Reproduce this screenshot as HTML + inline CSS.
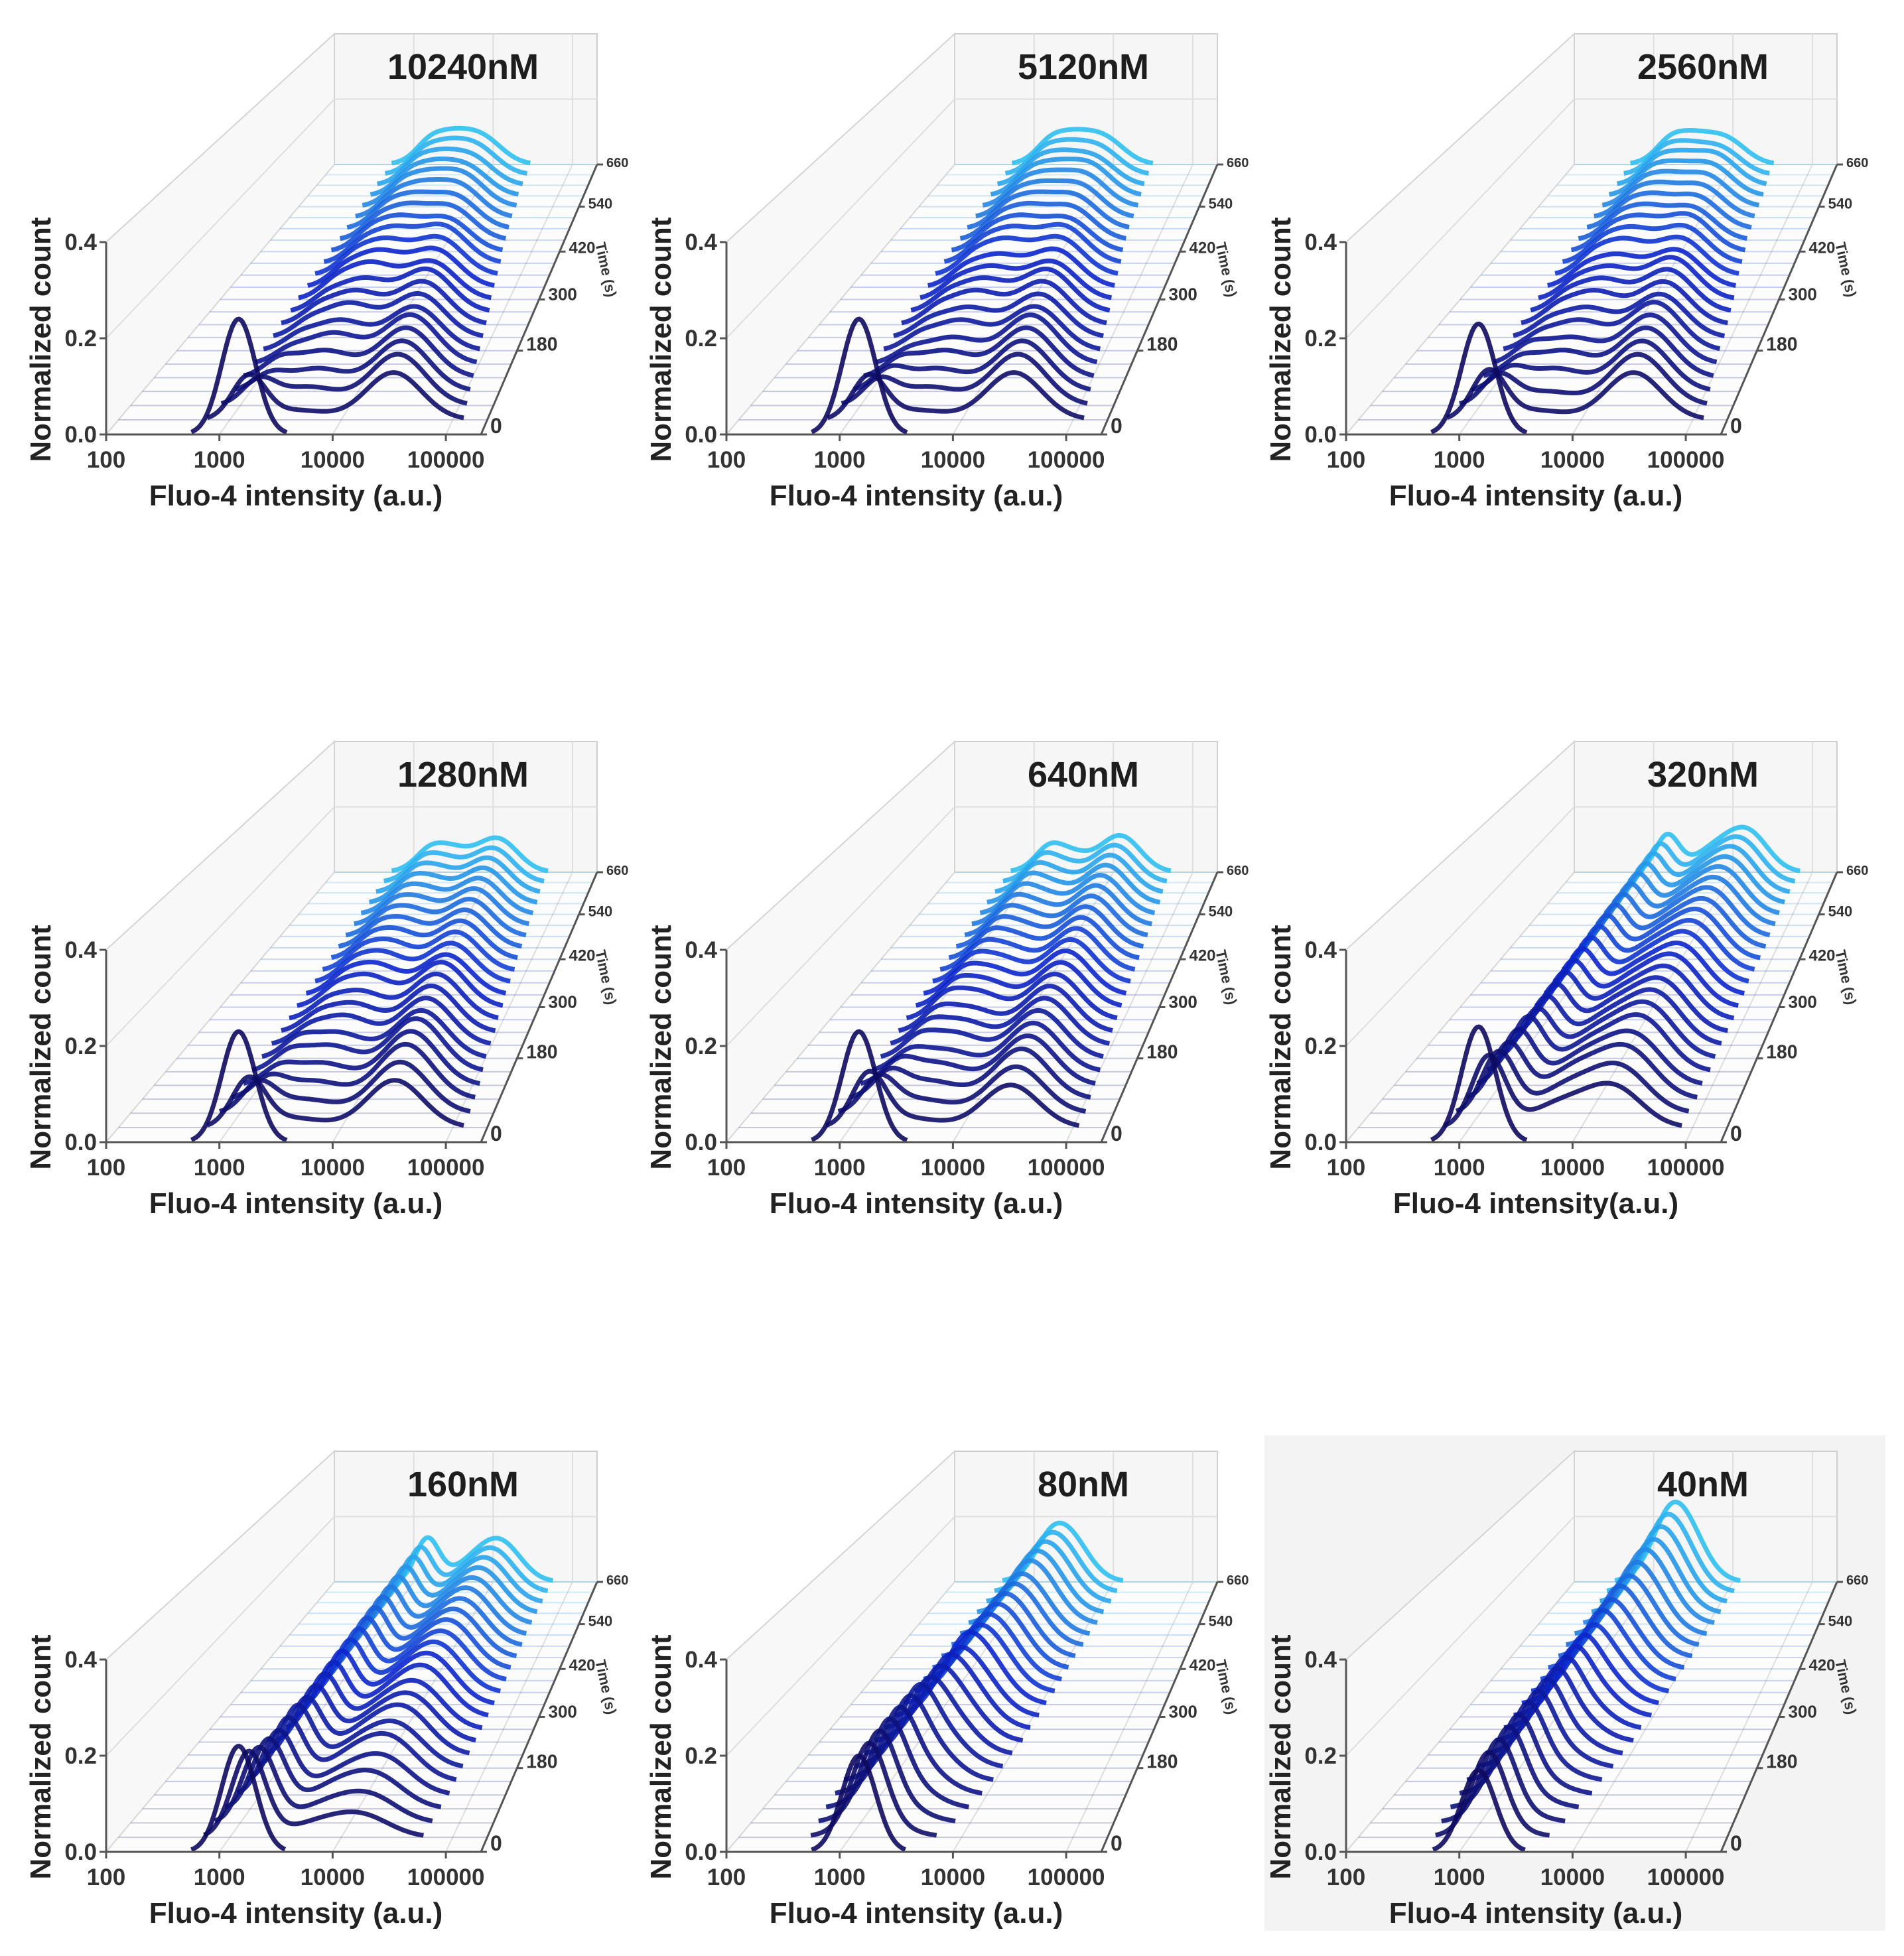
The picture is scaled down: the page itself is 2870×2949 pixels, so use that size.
<!DOCTYPE html>
<html><head><meta charset="utf-8"><title>Fluo-4 intensity ridge plots</title>
<style>
html,body{margin:0;padding:0;background:#fff;}
svg{display:block;font-family:"Liberation Sans",Arial,sans-serif;}
</style></head>
<body>
<svg id="fig" width="2870" height="2949" viewBox="0 0 2870 2949" xmlns="http://www.w3.org/2000/svg">
<rect x="1906" y="2164" width="936" height="747" fill="#f3f3f3"/>
</svg>
<script>
const times = [0,30,60,90,120,150,180,210,240,270,300,330,360,390,420,450,480,510,540,570,600,630,660];
const panelTitles = ["10240nM","5120nM","2560nM","1280nM","640nM","320nM","160nM","80nM","40nM"];
const xTickLabels = ["100","1000","10000","100000"];
const yTickLabels = ["0.0","0.2","0.4"];
const timeTickLabels = [0,180,300,420,540,660];
const xLabels = ["Fluo-4 intensity (a.u.)","Fluo-4 intensity (a.u.)","Fluo-4 intensity (a.u.)","Fluo-4 intensity (a.u.)","Fluo-4 intensity (a.u.)","Fluo-4 intensity(a.u.)","Fluo-4 intensity (a.u.)","Fluo-4 intensity (a.u.)","Fluo-4 intensity (a.u.)"];

// per-panel series: resting-peak height, low active peak (log10 position, height), high active peak (log10 position, height)
const restH = [
 [.24,.09,.05,.03,.03,.02,.02,.02,.02,.02,.02,.02,.02,.02,.02,.02,.02,.02,.02,.02,.02,.02,.02],
 [.24,.09,.05,.04,.03,.02,.02,.02,.02,.02,.02,.02,.02,.02,.02,.02,.02,.02,.02,.02,.02,.02,.02],
 [.23,.10,.06,.04,.03,.03,.02,.02,.02,.02,.02,.02,.02,.02,.02,.02,.02,.02,.02,.02,.02,.02,.02],
 [.23,.10,.06,.04,.03,.03,.03,.02,.02,.02,.02,.02,.02,.02,.02,.02,.02,.02,.02,.02,.02,.02,.02],
 [.23,.11,.07,.05,.04,.03,.03,.03,.03,.03,.03,.03,.03,.03,.03,.03,.03,.03,.03,.03,.03,.03,.03],
 [.24,.15,.13,.12,.12,.12,.11,.11,.11,.11,.11,.11,.11,.11,.11,.11,.11,.11,.11,.11,.11,.11,.11],
 [.22,.18,.16,.15,.14,.14,.14,.13,.13,.13,.13,.13,.13,.13,.13,.13,.13,.13,.13,.13,.13,.13,.13],
 [.20,.17,.15,.13,.11,.09,.08,.06,.05,.04,.03,.03,.02,.02,.02,.02,.02,.02,.02,.02,.02,.02,.02],
 [.17,.16,.15,.14,.13,.12,.11,.10,.09,.08,.07,.06,.05,.05,.04,.04,.03,.03,.03,.02,.02,.02,.02]
];
const loPos = [
 [3.5,3.60,3.62,3.62,3.60,3.60,3.58,3.58,3.56,3.56,3.54,3.54,3.52,3.52,3.50,3.50,3.48,3.48,3.46,3.46,3.44,3.44,3.42],
 [3.5,3.60,3.62,3.61,3.60,3.59,3.58,3.57,3.56,3.55,3.54,3.53,3.52,3.51,3.50,3.49,3.48,3.47,3.46,3.45,3.44,3.43,3.42],
 [3.5,3.58,3.60,3.60,3.59,3.58,3.57,3.56,3.55,3.54,3.53,3.52,3.51,3.50,3.49,3.48,3.47,3.46,3.45,3.44,3.43,3.42,3.41],
 [3.5,3.56,3.58,3.58,3.57,3.56,3.55,3.54,3.53,3.52,3.51,3.50,3.49,3.48,3.47,3.46,3.45,3.44,3.43,3.42,3.41,3.40,3.40],
 [3.45,3.52,3.54,3.54,3.53,3.52,3.51,3.50,3.49,3.48,3.47,3.46,3.45,3.44,3.43,3.42,3.41,3.40,3.39,3.38,3.37,3.37,3.37],
 [3.8,3.82,3.82,3.81,3.81,3.80,3.80,3.80,3.79,3.79,3.79,3.78,3.78,3.78,3.78,3.78,3.78,3.78,3.78,3.78,3.78,3.78,3.78],
 [3.8,3.80,3.80,3.80,3.79,3.79,3.79,3.78,3.78,3.78,3.78,3.78,3.78,3.78,3.78,3.78,3.78,3.78,3.78,3.78,3.78,3.78,3.78],
 [3.2,3.22,3.24,3.25,3.26,3.27,3.28,3.29,3.30,3.30,3.31,3.31,3.32,3.32,3.33,3.33,3.34,3.34,3.35,3.35,3.36,3.36,3.36],
 [3.2,3.21,3.22,3.23,3.24,3.24,3.25,3.25,3.26,3.26,3.27,3.27,3.28,3.28,3.28,3.29,3.29,3.29,3.30,3.30,3.30,3.30,3.30]
];
const loH = [
 [0,.02,.04,.05,.06,.07,.07,.08,.08,.08,.09,.09,.09,.09,.09,.09,.09,.09,.09,.09,.09,.09,.09],
 [0,.02,.04,.05,.06,.06,.07,.07,.08,.08,.08,.08,.09,.09,.09,.09,.09,.09,.09,.09,.09,.09,.09],
 [0,.02,.03,.05,.06,.06,.07,.07,.08,.08,.08,.08,.09,.09,.09,.09,.09,.09,.09,.09,.09,.09,.09],
 [0,.02,.03,.04,.05,.06,.06,.07,.07,.07,.08,.08,.08,.08,.08,.08,.08,.08,.08,.08,.08,.08,.08],
 [0,.02,.03,.04,.05,.05,.06,.06,.06,.07,.07,.07,.07,.07,.07,.07,.07,.07,.07,.07,.07,.07,.07],
 [0,.05,.06,.07,.07,.07,.07,.07,.07,.07,.07,.07,.07,.07,.07,.07,.07,.07,.07,.07,.07,.07,.07],
 [0,.03,.04,.05,.05,.06,.06,.06,.06,.06,.06,.06,.06,.06,.06,.06,.06,.06,.06,.06,.06,.06,.06],
 [0,.03,.05,.07,.09,.11,.12,.13,.14,.15,.15,.16,.16,.16,.16,.16,.16,.16,.17,.17,.17,.17,.17],
 [0,.02,.03,.04,.05,.06,.07,.08,.09,.10,.11,.12,.13,.14,.15,.16,.17,.18,.19,.20,.21,.22,.23]
];
const hiPos = [
 [4.5,4.47,4.44,4.41,4.38,4.35,4.32,4.29,4.26,4.23,4.20,4.17,4.14,4.11,4.08,4.05,4.02,3.99,3.96,3.94,3.92,3.90,3.88],
 [4.5,4.47,4.44,4.41,4.38,4.35,4.32,4.29,4.26,4.23,4.20,4.17,4.14,4.11,4.08,4.05,4.02,4.00,3.98,3.96,3.94,3.92,3.90],
 [4.5,4.47,4.44,4.41,4.38,4.35,4.32,4.30,4.27,4.24,4.21,4.18,4.15,4.12,4.09,4.06,4.04,4.02,4.00,3.98,3.96,3.94,3.92],
 [4.5,4.48,4.46,4.44,4.42,4.40,4.38,4.36,4.34,4.32,4.30,4.28,4.26,4.24,4.22,4.20,4.18,4.16,4.14,4.12,4.10,4.08,4.06],
 [4.45,4.44,4.42,4.40,4.39,4.37,4.35,4.34,4.32,4.30,4.29,4.27,4.25,4.24,4.22,4.20,4.19,4.17,4.15,4.14,4.12,4.10,4.09],
 [4.3,4.30,4.29,4.29,4.28,4.28,4.27,4.27,4.26,4.26,4.25,4.25,4.24,4.24,4.23,4.23,4.22,4.22,4.21,4.21,4.20,4.20,4.20],
 [4.2,4.20,4.20,4.19,4.19,4.18,4.18,4.17,4.17,4.16,4.16,4.15,4.15,4.15,4.14,4.14,4.14,4.13,4.13,4.13,4.12,4.12,4.12],
 [4.5,4.5,4.5,4.5,4.5,4.5,4.5,4.5,4.5,4.5,4.5,4.5,4.5,4.5,4.5,4.5,4.5,4.5,4.5,4.5,4.5,4.5,4.5],
 [4.5,4.5,4.5,4.5,4.5,4.5,4.5,4.5,4.5,4.5,4.5,4.5,4.5,4.5,4.5,4.5,4.5,4.5,4.5,4.5,4.5,4.5,4.5]
];
const hiH = [
 [0,.10,.11,.11,.11,.11,.10,.10,.10,.10,.09,.09,.09,.09,.08,.08,.08,.08,.08,.07,.07,.07,.07],
 [0,.10,.11,.11,.11,.11,.10,.10,.10,.10,.09,.09,.09,.09,.08,.08,.08,.08,.08,.08,.07,.07,.07],
 [0,.10,.11,.11,.11,.11,.11,.10,.10,.10,.10,.09,.09,.09,.09,.08,.08,.08,.08,.08,.08,.07,.07],
 [0,.10,.11,.12,.12,.12,.11,.11,.11,.11,.11,.10,.10,.10,.10,.10,.10,.10,.10,.10,.10,.10,.10],
 [0,.09,.10,.11,.11,.11,.11,.11,.11,.11,.11,.11,.11,.11,.11,.11,.11,.11,.11,.11,.11,.11,.11],
 [0,.08,.09,.10,.10,.11,.11,.11,.11,.11,.11,.11,.11,.11,.11,.11,.11,.11,.11,.11,.11,.11,.11],
 [0,.04,.05,.06,.07,.08,.08,.09,.09,.09,.10,.10,.10,.10,.10,.10,.10,.10,.10,.10,.10,.10,.10],
 [0,0,0,0,0,0,0,0,0,0,0,0,0,0,0,0,0,0,0,0,0,0,0],
 [0,0,0,0,0,0,0,0,0,0,0,0,0,0,0,0,0,0,0,0,0,0,0]
];

const NS = "http://www.w3.org/2000/svg";
const svg = document.getElementById("fig");
const colOff = [0, 935, 1869];
const rowOff = [0, 1067, 2137];
const FL = [160,655], FR = [725,655], BL = [504,248], BR = [900,248];
const HF = 290, HB = 197, LMIN = 2, LMAX = 5.31, TMAX = 660, YMAX = 0.4;

function mk(tag, attrs, parent) {
  const e = document.createElementNS(NS, tag);
  for (const k in attrs) e.setAttribute(k, attrs[k]);
  parent.appendChild(e);
  return e;
}
function depth(t) { const v = t / TMAX; return 1.2 * v / (1 + 0.2 * v); }
function lerp(a, b, f) { return a + (b - a) * f; }
function proj(L, t, h) {
  const f = depth(t);
  const xl = lerp(FL[0], BL[0], f), xr = lerp(FR[0], BR[0], f);
  const x = xl + (L - LMIN) / (LMAX - LMIN) * (xr - xl);
  const y = lerp(FL[1], BL[1], f) - h / YMAX * lerp(HF, HB, f);
  return [x, y];
}
function color(f) {
  const s = [[14,10,95],[12,38,205],[48,192,242]];
  let a, b, g;
  if (f < 0.5) { a = s[0]; b = s[1]; g = f / 0.5; } else { a = s[1]; b = s[2]; g = (f - 0.5) / 0.5; }
  return "rgb(" + a.map((c, i) => Math.round(c + (b[i] - c) * g)).join(",") + ")";
}
function gauss(x, m, w) { return Math.exp(-0.5 * ((x - m) / w) * ((x - m) / w)); }
function density(p, i, L) {
  return restH[p][i] * gauss(L, 3.17, 0.15) + loH[p][i] * gauss(L, loPos[p][i], 0.28) + hiH[p][i] * gauss(L, hiPos[p][i], 0.25);
}
function pt(a) { return a[0].toFixed(1) + "," + a[1].toFixed(1); }

function drawPanel(p) {
  const g = mk("g", {transform: "translate(" + colOff[p % 3] + "," + rowOff[Math.floor(p / 3)] + ")"}, svg);
  
  
  const bTop = BL[1] - HB * 1.0, fTop = FL[1] - HF;
  const back = mk("polygon", {points: [BL, BR, [BR[0], bTop], [BL[0], bTop]].map(pt).join(" "), fill: "#f6f6f6", stroke: "#cfcfcf", "stroke-width": 2}, g);
  
  
  const left = mk("polygon", {points: [FL, BL, [BL[0], bTop], [FL[0], fTop]].map(pt).join(" "), fill: "#f8f8f8", stroke: "#d4d4d4", "stroke-width": 2}, g);
  
  
  const floor = mk("polygon", {points: [FL, FR, BR, BL].map(pt).join(" "), fill: "#fcfcfc", stroke: "#d8d8d8", "stroke-width": 2}, g);
  
  
  const grid = mk("g", {stroke: "#dedede", "stroke-width": 2, fill: "none"}, g);
  
  
  for (let d = 3; d <= 5; d++) {
    const b0 = proj(d, TMAX, 0), b1 = proj(d, TMAX, YMAX), f0 = proj(d, 0, 0);
    mk("line", {x1: b0[0], y1: b0[1], x2: b1[0], y2: b1[1]}, grid);
    mk("line", {x1: f0[0], y1: f0[1], x2: b0[0], y2: b0[1]}, grid);
  }
  const bm = proj(LMIN, TMAX, 0.2), bmr = proj(LMAX, TMAX, 0.2), fm = proj(LMIN, 0, 0.2);
  mk("line", {x1: bm[0], y1: bm[1], x2: bmr[0], y2: bmr[1]}, grid);
  mk("line", {x1: fm[0], y1: fm[1], x2: bm[0], y2: bm[1]}, grid);
  const title = mk("text", {x: 698, y: 119, "text-anchor": "middle", "font-size": 54, "font-weight": "bold", fill: "#1e1e1e"}, g);
  title.textContent = panelTitles[p];
  
  
  const cg = mk("g", {fill: "none", "stroke-linejoin": "round"}, g);
  
  
  for (let i = times.length - 1; i >= 0; i--) {
    const t = times[i], col = color(i / (times.length - 1));
    const b0 = proj(LMIN, t, 0), b1 = proj(LMAX, t, 0);
    const base = mk("line", {x1: b0[0], y1: b0[1], x2: b1[0], y2: b1[1], stroke: col, "stroke-width": 2, opacity: 0.22}, cg);
    
    
    let d = "", on = false;
    for (let k = 0; k <= 220; k++) {
      const L = LMIN + (LMAX - LMIN) * k / 220;
      const h = density(p, i, L);
      if (h > 0.004) {
        d += (on ? "L" : "M") + pt(proj(L, t, h));
        on = true;
      } else on = false;
    }
    if (d) {
      const path = mk("path", {d: d, stroke: col, "stroke-width": 7, opacity: 0.9}, cg);
      
      
    }
  }
  const ax = mk("g", {stroke: "#555", "stroke-width": 3, fill: "none"}, g);
  
  
  mk("line", {x1: FL[0], y1: FL[1], x2: FL[0], y2: fTop}, ax);
  mk("line", {x1: FL[0], y1: FL[1], x2: FR[0], y2: FR[1]}, ax);
  mk("line", {x1: FR[0], y1: FR[1], x2: BR[0], y2: BR[1]}, ax);
  yTickLabels.forEach(lab => {
    const v = parseFloat(lab), q = proj(LMIN, 0, v);
    mk("line", {x1: q[0] - 10, y1: q[1], x2: q[0], y2: q[1]}, ax);
    const tx = mk("text", {x: q[0] - 14, y: q[1] + 12, "text-anchor": "end", "font-size": 35, "font-weight": "bold", fill: "#333"}, g);
    tx.textContent = lab;
    
    
  });
  xTickLabels.forEach(lab => {
    const L = Math.log10(parseFloat(lab)), q = proj(L, 0, 0);
    mk("line", {x1: q[0], y1: q[1], x2: q[0], y2: q[1] + 10}, ax);
    const tx = mk("text", {x: q[0], y: q[1] + 50, "text-anchor": "middle", "font-size": 35, "font-weight": "bold", fill: "#333"}, g);
    tx.textContent = lab;
    
    
  });
  timeTickLabels.forEach(tt => {
    const q = proj(LMAX, tt, 0), f = depth(tt);
    mk("line", {x1: q[0], y1: q[1], x2: q[0] + 9, y2: q[1]}, ax);
    const fs = lerp(32, 20, f);
    const tx = mk("text", {x: q[0] + 14, y: q[1] - lerp(2, -4, f), "text-anchor": "start", "font-size": fs.toFixed(1), "font-weight": "bold", fill: "#333"}, g);
    tx.textContent = String(tt);
    
    
  });
  const tl = mk("text", {x: 0, y: 0, transform: "translate(906,408) rotate(78)", "text-anchor": "middle", "font-size": 22, "font-weight": "bold", fill: "#333"}, g);
  tl.textContent = "Time (s)";
  
  
  const yl = mk("text", {x: 0, y: 0, transform: "translate(76,512) rotate(-90)", "text-anchor": "middle", "font-size": 44, "font-weight": "bold", fill: "#222"}, g);
  yl.textContent = "Normalized count";
  
  
  const xl = mk("text", {x: 446, y: 762, "text-anchor": "middle", "font-size": 44, "font-weight": "bold", fill: "#222"}, g);
  xl.textContent = xLabels[p];
  
  
}
for (let p = 0; p < 9; p++) drawPanel(p);
</script>
</body></html>
